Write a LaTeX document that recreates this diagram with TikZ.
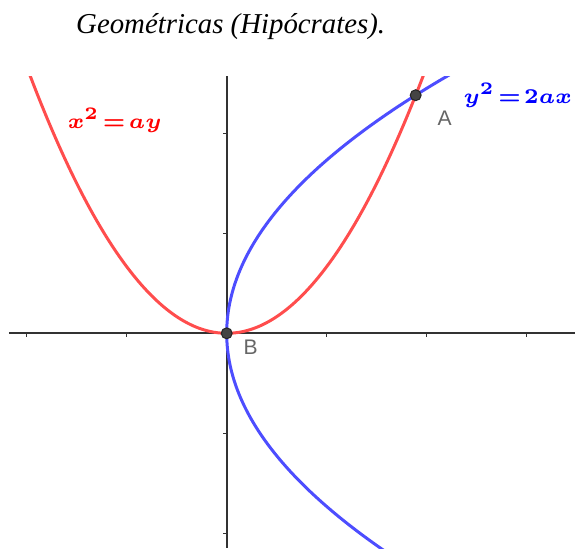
\documentclass[tikz,border=0pt]{standalone}
\usepackage{fontspec}
\setmainfont{Liberation Serif}
\setsansfont{Liberation Sans}
\usepackage{amsmath}
\usepackage{tikz}
\usetikzlibrary{positioning}
\definecolor{CurveRed}{RGB}{255, 77, 77}
\definecolor{CurveBlue}{RGB}{77, 77, 255}
\definecolor{LabelRed}{RGB}{255, 0, 0}
\definecolor{LabelBlue}{RGB}{0, 0, 255}
\definecolor{AxisGray}{RGB}{50, 50, 50}
\definecolor{PointGray}{RGB}{68, 68, 68}
\tikzset{
  axisline/.style={draw=AxisGray, line width=0.5pt},
  tickmark/.style={draw=AxisGray, line width=0.4pt},
  redcurve/.style={draw=CurveRed, line width=0.85pt, smooth},
  bluecurve/.style={draw=CurveBlue, line width=0.85pt, smooth},
  dot/.style={circle, fill=PointGray, draw=black!85, line width=0.3pt,
    inner sep=0pt, minimum size=3.1pt},
  ptlabel/.style={font=\sffamily\fontsize{6}{7}\selectfont, text=black!60},
  eqlabel/.style={font=\fontsize{6}{7}\selectfont\boldmath, inner sep=0pt,
    execute at begin node={\thickmuskip=2mu\relax}},
}

\begin{document}
\begin{tikzpicture}
  \useasboundingbox (-2.267,-2.147) rectangle (3.483,3.333);
  % title
  \node[anchor=base, font=\itshape\fontsize{8.2}{10}\selectfont] (title)
    at (0.04,3.0) {Geométricas (Hipócrates).};
  % axes
  \draw[axisline] (-2.177,0) -- (3.483,0);
  \draw[axisline] (0,2.573) -- (0,-2.147);
  \foreach \x in {-2,-1,1,2,3}
    \draw[tickmark] (\x,0) -- (\x,-0.04);
  \foreach \y in {-2,-1,1,2}
    \draw[tickmark] (0,\y) -- (-0.04,\y);
  % curves
  \begin{scope}
    \clip (-2.177,-2.147) rectangle (3.483,2.573);
    \draw[redcurve, domain=-2.05:2.05, samples=80]
      plot (\x,{\x*\x/1.5});
    \draw[bluecurve, domain=-2.25:2.65, samples=80]
      plot ({\x*\x/3},\x);
  \end{scope}
  % points
  \node[dot] (A) at ({1.5*2^(1/3)},{1.5*2^(2/3)}) {};
  \node[dot] (B) at (0,0) {};
  \node[ptlabel] (labA) at (2.18,2.15) {A};
  \node[ptlabel] (labB) at (0.24,-0.14) {B};
  % equations
  \node[eqlabel, text=LabelRed] (eqred) at (-1.12,2.13) {$x^2=ay$};
  \node[eqlabel, text=LabelBlue, anchor=east] (eqblue) at (3.46,2.38) {$y^2=2ax$};
\end{tikzpicture}
\end{document}
